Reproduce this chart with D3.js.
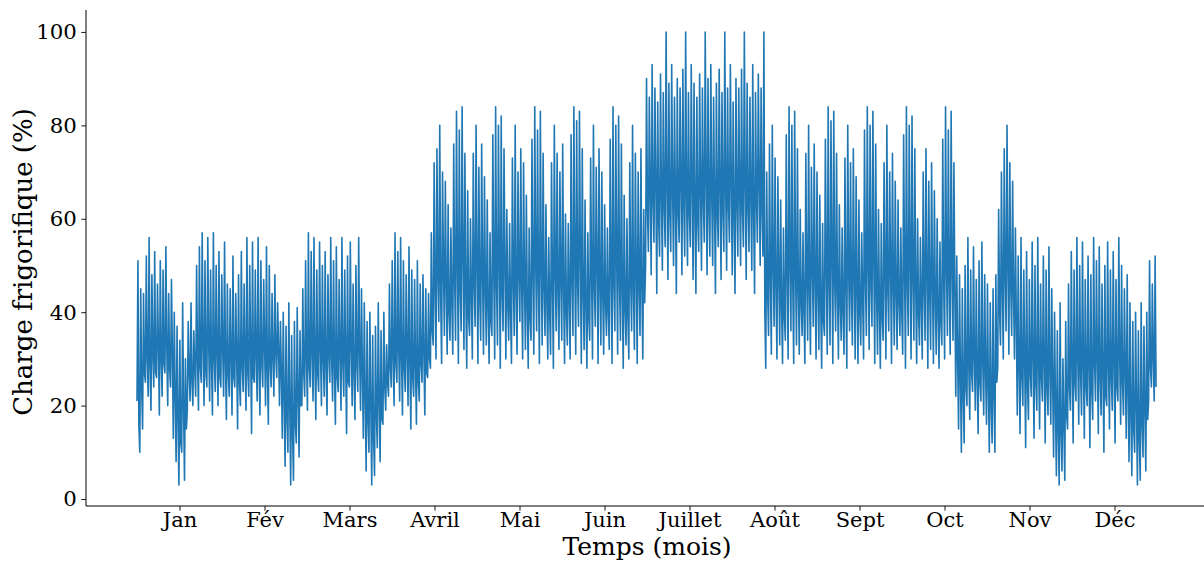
<!DOCTYPE html>
<html>
<head>
<meta charset="utf-8">
<script src="https://cdn.jsdelivr.net/npm/d3@7"></script>
<style>
  html, body { margin: 0; padding: 0; background: #fff; }
  svg { display: block; }
  text { font-family: "DejaVu Serif", serif; fill: #000; }
</style>
</head>
<body>
<svg id="chart" width="1204" height="561"></svg>
<script>
// ---------- data (3 readings per day, every 8 h) ----------
const months = ["Jan","Fév","Mars","Avril","Mai","Juin","Juillet","Août","Sept","Oct","Nov","Déc"];
const monthTickHours = [365,1095,1825,2555,3285,4015,4745,5475,6205,6935,7665,8395];
const yTicks = [0,20,40,60,80,100];

// days 0-104 (low season)
const winterLoad = [
21,51,16, 10,45,24, 15,44,27, 25,52,30, 22,56,28, 19,48,31, 24,53,27,
26,46,33, 18,51,30, 22,49,29, 27,54,32, 20,44,28, 24,47,31, 13,40,22,
8,37,18, 3,34,12, 10,42,20, 4,30,15, 19,38,27, 21,42,25, 20,36,28,
22,50,30, 19,54,28, 25,57,32, 20,51,27, 24,56,33, 21,49,29, 18,57,30,
23,50,31, 20,53,26, 24,48,32, 22,55,29, 17,46,27, 22,45,30, 18,52,26,
24,44,31, 15,48,25, 20,53,28, 23,46,30, 19,56,27, 22,50,32, 14,55,26,
25,49,30, 21,56,28, 18,51,29, 24,47,33, 20,54,27, 16,50,29, 24,44,30,
22,48,31, 26,42,32, 20,38,27, 13,40,22, 7,37,18, 10,42,20, 3,35,14,
4,38,16, 12,41,22, 9,36,20, 20,45,27, 22,51,30, 19,57,28, 24,53,31,
21,56,29, 17,49,27, 23,55,32, 20,50,30, 22,53,28, 18,48,31, 25,56,30,
21,51,28, 16,54,26, 23,47,31, 19,56,29, 22,49,30, 14,52,25, 24,55,32,
20,46,27, 17,50,29, 23,56,31, 19,45,27, 13,42,22, 6,38,17, 10,40,20,
3,35,13, 5,37,18, 11,42,21, 8,36,17, 16,40,24, 19,33,25, 22,46,28,
24,51,30, 20,57,29, 25,53,32, 21,56,30, 18,51,28, 23,48,31, 20,54,29,
15,49,26, 22,47,28, 16,51,25, 21,46,29, 25,48,31, 18,45,27, 26,44,30
];

// days 105-181 (intermediate season, weekly rhythm)
const springLoad = [
28,57,36,
33,72,45, 30,75,48, 38,80,44, 29,70,50, 35,68,46, 31,63,40, 34,58,42,
31,76,47, 34,83,50, 29,79,45, 36,84,52, 32,74,44, 28,66,39, 35,60,43,
30,74,46, 37,80,50, 29,71,43, 34,76,48, 31,69,45, 33,64,41, 29,57,38,
35,78,49, 30,84,46, 33,80,52, 28,82,44, 36,75,50, 30,62,42, 34,59,40,
29,73,47, 35,80,44, 31,70,49, 38,75,45, 30,72,46, 32,65,41, 28,58,39,
34,77,48, 31,84,51, 36,79,46, 29,83,50, 33,74,45, 35,63,42, 30,56,40,
31,72,46, 28,80,49, 36,74,44, 32,70,47, 34,76,45, 29,61,40, 33,59,43,
30,78,47, 35,84,50, 31,81,46, 37,83,52, 29,75,44, 32,64,41, 28,57,39,
34,73,48, 30,80,45, 37,71,50, 29,75,46, 33,70,44, 31,63,42, 35,58,40,
32,77,49, 29,84,46, 36,80,51, 31,82,47, 34,76,45, 28,65,41, 33,60,39,
30,72,47, 36,80,44, 32,74,49, 29,70,46, 35,75,45, 30,62,42
];

// days 182-224 (summer peak)
const summerLoad = [
50,90,62, 53,86,66, 48,93,64, 55,88,68, 44,85,60, 52,91,65, 49,87,63,
54,100,67, 47,89,61, 53,93,66, 50,86,64, 44,90,62, 55,88,68, 48,92,63,
52,100,65, 50,87,61, 54,93,67, 47,89,62, 44,86,60, 53,91,66, 49,88,64,
55,100,68, 48,90,62, 52,93,65, 50,86,63, 44,89,61, 54,92,67, 47,87,62,
53,100,66, 49,88,63, 55,93,68, 48,85,61, 44,90,64, 52,88,66, 50,92,62,
54,100,67, 47,89,63, 53,86,65, 49,93,61, 44,87,64, 55,91,68, 50,88,62,
52,100,40
];

// days 225-292 (intermediate season, weekly rhythm)
const autumnLoad = [
28,70,44, 35,76,47, 31,80,50, 37,73,45, 30,69,48, 33,64,41, 29,58,39,
34,78,48, 30,84,51, 36,80,46, 29,83,49, 33,75,45, 31,62,42, 35,57,40,
29,74,47, 34,80,44, 31,71,50, 37,76,46, 30,70,45, 32,65,41, 28,59,38,
35,77,49, 31,84,46, 33,81,52, 29,83,47, 36,74,44, 30,63,42, 34,58,40,
31,73,46, 28,80,49, 36,72,44, 33,75,48, 30,69,45, 29,64,40, 33,57,43,
30,79,47, 35,84,50, 32,80,46, 37,83,51, 29,76,44, 31,62,41, 28,59,39,
34,72,48, 30,80,45, 36,70,50, 29,74,46, 33,68,44, 32,64,42, 35,58,40,
31,78,49, 28,84,46, 35,80,51, 30,82,47, 34,75,45, 29,60,40, 33,56,42,
30,70,45, 34,75,48, 28,68,44, 32,72,46, 29,66,43, 31,60,40, 28,55,38,
33,77,47, 30,84,50, 35,79,46, 31,83,49, 34,72,44
];

// days 293-364 (low season)
const lateLoad = [
22,52,30, 15,48,26, 10,45,22, 12,50,24, 20,56,28, 17,49,27, 23,54,30,
19,47,26, 14,51,25, 21,55,29, 18,48,27, 16,46,24, 10,42,20, 12,45,22,
10,48,25, 28,62,40, 33,70,45, 30,75,48, 36,80,50, 31,72,46, 35,68,44,
30,58,38, 18,52,28, 14,56,26, 20,49,29, 11,53,24, 17,47,27, 22,55,30,
13,50,25, 19,56,28, 15,46,26, 21,52,29, 12,49,24, 18,54,27, 16,45,25,
9,40,20, 5,36,15, 3,42,14, 6,30,16, 4,38,18, 15,46,24, 19,53,28,
12,49,25, 21,56,30, 16,50,27, 18,55,29, 13,47,24, 20,52,28, 11,48,23,
17,56,29, 21,51,30, 14,54,26, 18,46,27, 10,50,22, 20,55,28, 15,49,26,
19,53,29, 12,47,24, 21,56,30, 16,50,25, 18,45,27, 13,48,23, 8,42,18,
5,38,15, 10,40,20, 3,36,13, 4,42,16, 9,37,19, 6,40,17, 21,51,28,
24,46,30, 21,52,24
];

// ---------- chart ----------
const load = [].concat(winterLoad, springLoad, summerLoad, autumnLoad, lateLoad);
const STEP_HOURS = 8;

const svg = d3.select("#chart");
const plot = { left: 86, right: 1208, top: 10, bottom: 506 };

const lastHour = 8760;
const pad = lastHour * 0.05;
const x = d3.scaleLinear().domain([-pad, lastHour + pad]).range([plot.left, plot.right]);
const y = d3.scaleLinear().domain([-1.5, 104.7]).range([plot.bottom, plot.top]);

// line
const line = d3.line()
  .x((d, i) => x(i * STEP_HOURS))
  .y(d => y(d));

svg.append("path")
  .datum(load)
  .attr("fill", "none")
  .attr("stroke", "#1f77b4")
  .attr("stroke-width", 1.6)
  .attr("stroke-linejoin", "round")
  .attr("d", line);

// y axis
const yAxis = d3.axisLeft(y)
  .tickValues(yTicks)
  .tickSize(4.7)
  .tickPadding(4.5)
  .tickFormat(d3.format("d"));
const gy = svg.append("g").attr("transform", `translate(${plot.left},0)`).call(yAxis);
gy.select(".domain").remove();
gy.selectAll("text").style("font-size", "21.3px").style("font-family", "DejaVu Serif");
gy.selectAll("line").attr("stroke", "#000").attr("stroke-width", 0.9);

// x axis
const xAxis = d3.axisBottom(x)
  .tickValues(monthTickHours)
  .tickSize(4.7)
  .tickPadding(1.0)
  .tickFormat((d, i) => months[i]);
const gx = svg.append("g").attr("transform", `translate(0,${plot.bottom})`).call(xAxis);
gx.select(".domain").remove();
gx.selectAll("text").style("font-size", "21px").style("font-family", "DejaVu Serif");
gx.selectAll("line").attr("stroke", "#000").attr("stroke-width", 0.9);

// spines (left & bottom)
svg.append("line")
  .attr("x1", plot.left).attr("x2", plot.left)
  .attr("y1", plot.top).attr("y2", plot.bottom)
  .attr("stroke", "#000").attr("stroke-width", 1);
svg.append("line")
  .attr("x1", plot.left).attr("x2", plot.right)
  .attr("y1", plot.bottom).attr("y2", plot.bottom)
  .attr("stroke", "#000").attr("stroke-width", 1);

// axis titles
svg.append("text")
  .attr("x", 647)
  .attr("y", 555)
  .attr("text-anchor", "middle")
  .style("font-size", "25px")
  .text("Temps (mois)");

svg.append("text")
  .attr("transform", `translate(32,262) rotate(-90)`)
  .attr("text-anchor", "middle")
  .style("font-size", "26px")
  .text("Charge frigorifique (%)");
</script>
</body>
</html>
